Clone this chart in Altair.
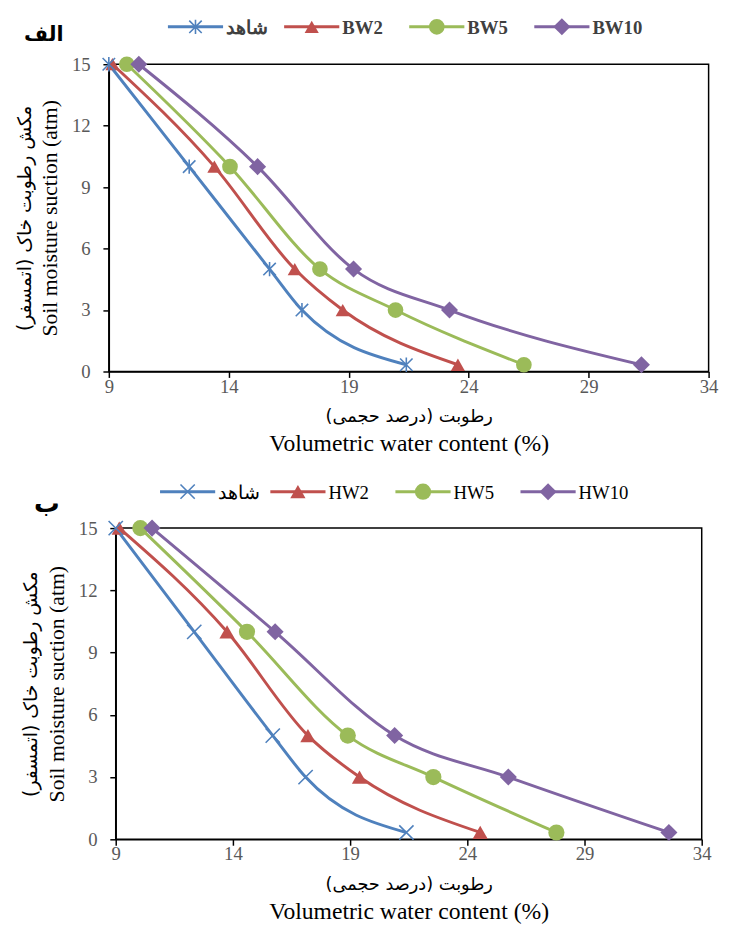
import altair as alt
import pandas as pd

# ---------------- data ----------------
suction = [15, 10, 5, 3, 0.33]

names_a = ["شاهد", "BW2", "BW5", "BW10"]
ctrl_a = [9.0, 12.35, 15.7, 17.05, 21.4]
bw2 = [9.15, 13.4, 16.75, 18.75, 23.55]
bw5 = [9.75, 14.05, 17.8, 20.95, 26.3]
bw10 = [10.25, 15.2, 19.2, 23.2, 31.2]

names_b = ["شاهد", "HW2", "HW5", "HW10"]
ctrl_b = [9.0, 12.35, 15.7, 17.1, 21.4]
hw2 = [9.15, 13.75, 17.2, 19.4, 24.55]
hw5 = [10.05, 14.6, 18.9, 22.55, 27.8]
hw10 = [10.55, 15.8, 20.9, 25.75, 32.6]

x_ticks = [9, 14, 19, 24, 29, 34]
y_ticks = [0, 3, 6, 9, 12, 15]

x_title_fa = "رطوبت (درصد حجمی)\u200f"
x_title_en = "Volumetric water content (%)"
y_title_fa = "مکش رطوبت خاک (اتمسفر)\u200f"
y_title_en = "Soil moisture suction (atm)"

colors = ["#4F81BD", "#C0504D", "#9BBB59", "#8064A2"]
STAR = "M-1,-1L1,1M-1,1L1,-1M0,-1.15L0,1.15"
XMARK = "M-1,-1L1,1M-1,1L1,-1"
SERIF = "Liberation Serif, DejaVu Serif"
FA = "DejaVu Sans, Liberation Serif"


def long_df(names, series):
    rows = []
    for n, vals in zip(names, series):
        for yv, xv in zip(suction, vals):
            rows.append({"series": n, "x": xv, "y": yv})
    return pd.DataFrame(rows)


def panel(names, series, ctrl_shape, ctrl_size, label, label_size, width, height,
          leg_x0, leg_step, leg_first, leg_y, leg_bold, leg_color, lab_x, lab_y):
    df = long_df(names, series)
    color = alt.Color("series:N", scale=alt.Scale(domain=names, range=colors), legend=None)
    shape = alt.Shape("series:N", scale=alt.Scale(domain=names,
                      range=[ctrl_shape, "triangle-up", "circle", "diamond"]), legend=None)
    size = alt.Size("series:N", scale=alt.Scale(domain=names,
                    range=[ctrl_size, 300, 280, 220]), legend=None)
    xscale = alt.Scale(domain=[9, 34], nice=False, zero=False)
    yscale = alt.Scale(domain=[0, 15], nice=False)

    # axis 1: labels + inner title ; axis 2: outer title only
    x_ax1 = alt.Axis(orient="bottom", values=x_ticks, title=x_title_fa, grid=False, tickSize=6,
                     labelPadding=0, titlePadding=12, titleFont=FA, titleFontSize=18)
    x_ax2 = alt.Axis(orient="bottom", values=x_ticks, title=x_title_en, grid=False, labels=False,
                     ticks=False, domain=False, titlePadding=61,
                     titleFont=SERIF, titleFontSize=24)
    y_ax1 = alt.Axis(orient="left", values=y_ticks, title=y_title_en, grid=False, tickSize=6,
                     labelPadding=13, titlePadding=10, titleFont=SERIF, titleFontSize=22)
    y_ax2 = alt.Axis(orient="left", values=y_ticks, title=y_title_fa, grid=False, labels=False,
                     ticks=False, domain=False, titlePadding=76,
                     titleFont=FA, titleFontSize=19)

    base = alt.Chart(df)
    lines = base.mark_line(interpolate="monotone", strokeWidth=3).encode(
        x=alt.X("x:Q", scale=xscale, axis=x_ax1),
        y=alt.Y("y:Q", scale=yscale, axis=y_ax1),
        color=color,
        order=alt.Order("x:Q"),
    )
    pts_fill = base.transform_filter(alt.datum.series != names[0]).mark_point(
        filled=True, opacity=1).encode(
        x=alt.X("x:Q", scale=xscale, axis=x_ax2),
        y=alt.Y("y:Q", scale=yscale, axis=y_ax2),
        color=color, shape=shape, size=size,
    )
    pts_ctrl = base.transform_filter(alt.datum.series == names[0]).mark_point(
        filled=False, opacity=1, strokeWidth=1.6).encode(
        x=alt.X("x:Q", scale=xscale, axis=None),
        y=alt.Y("y:Q", scale=yscale, axis=None),
        color=color, shape=shape, size=size,
    )

    # manual legend (line + marker + label), placed above the plot
    ldf = pd.DataFrame({"series": names, "i": list(range(len(names)))})
    leg = alt.Chart(ldf).transform_calculate(
        cx=f"{leg_x0} + {leg_step} * datum.i + (datum.i == 0 ? {leg_first} : 0)",
        x0="datum.cx - 28",
        x1="datum.cx + 28",
        tx="datum.cx + 31",
    )
    lscale = alt.Scale(domain=[0, width], nice=False, zero=False)
    leg_line = leg.mark_rule(strokeWidth=3).encode(
        x=alt.X("x0:Q", scale=lscale, axis=None), x2="x1:Q",
        y=alt.value(leg_y), color=color)
    leg_fill = leg.transform_filter(alt.datum.series != names[0]).mark_point(
        filled=True, opacity=1).encode(
        x=alt.X("cx:Q", scale=lscale, axis=None), y=alt.value(leg_y),
        color=color, shape=shape, size=size)
    leg_ctrl = leg.transform_filter(alt.datum.series == names[0]).mark_point(
        filled=False, opacity=1, strokeWidth=1.6).encode(
        x=alt.X("cx:Q", scale=lscale, axis=None), y=alt.value(leg_y),
        color=color, shape=shape, size=size)
    leg_text = leg.mark_text(align="left", baseline="middle", font=SERIF,
                             fontSize=19, fontWeight="bold" if leg_bold else "normal",
                             color=leg_color).encode(
        x=alt.X("tx:Q", scale=lscale, axis=None), y=alt.value(leg_y + 1),
        text="series:N")

    # panel letter
    tag = alt.Chart(pd.DataFrame({"t": [label]})).mark_text(
        align="center", baseline="middle", font=FA, fontSize=label_size, fontWeight="bold",
        color="black").encode(x=alt.value(lab_x), y=alt.value(lab_y), text="t:N")

    ch = alt.layer(lines, pts_fill, pts_ctrl, leg_line, leg_fill, leg_ctrl, leg_text, tag).resolve_scale(
        x="independent", y="independent"
    ).properties(width=width, height=height)
    return ch


top = panel(names_a, [ctrl_a, bw2, bw5, bw10], STAR, 160, "الف", 21, 609, 312,
            79, 127, 9, -38, True, "#404040", -66, -30)
bottom = panel(names_b, [ctrl_b, hw2, hw5, hw10], XMARK, 210, "ب", 26, 595, 316,
               58, 127, 15, -37, False, "#000000", -70, -24)

chart = alt.vconcat(top, bottom, spacing=24, center=True).resolve_scale(
    color="independent", shape="independent", size="independent"
).properties(
    background="white", padding={"left": 6, "top": 0, "right": 5, "bottom": 0}
).configure_view(
    stroke="black", strokeWidth=1.5
).configure_axis(
    domainColor="black", domainWidth=1.5, tickColor="black", tickWidth=1.5,
    labelFont=SERIF, labelFontSize=19, labelColor="#595959",
    titleColor="black", titleFontWeight="normal",
    labelFlush=False,
)

chart.save("out.html", embed_options={"renderer": "svg", "actions": False})
